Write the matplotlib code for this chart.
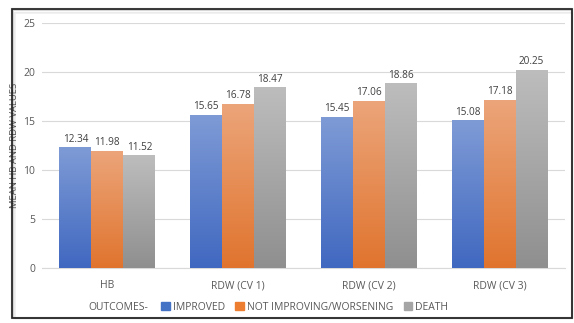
import numpy as np
import matplotlib.pyplot as plt
from matplotlib.patches import Rectangle
from matplotlib.colors import LinearSegmentedColormap

plt.rcParams['font.family'] = ['Open Sans', 'DejaVu Sans']

categories = ['HB', 'RDW (CV 1)', 'RDW (CV 2)', 'RDW (CV 3)']
series = ['IMPROVED', 'NOT IMPROVING/WORSENING', 'DEATH']
improved = [12.34, 15.65, 15.45, 15.08]
worsening = [11.98, 16.78, 17.06, 17.18]
death = [11.52, 18.47, 18.86, 20.25]
yticks = [0, 5, 10, 15, 20, 25]

values = [improved, worsening, death]
# (top colour, bottom colour) for each series' gradient fill
grads = [('#7f9bd6', '#4068c0'), ('#eca57a', '#e0742e'), ('#bdbdbd', '#8f8f8f')]
solid = ['#4472c4', '#ed7d31', '#a5a5a5']

fig = plt.figure(figsize=(5.74, 3.23), dpi=100)
fig.patch.set_facecolor('white')

# outer frame with a soft shadow on the top and left
for i, a in enumerate([0.25, 0.15, 0.08, 0.04]):
    fig.patches.append(Rectangle((12 / 574 + i * 0.002, (323 - 318) / 323),
                                 (572 - 12) / 574 - i * 0.002, (318 - 9) / 323 - i * 0.004,
                                 transform=fig.transFigure, fill=False,
                                 edgecolor='black', alpha=a, lw=1.6 - i * 0.3))
fig.patches.append(Rectangle((12 / 574, 5 / 323), 560 / 574, 309 / 323,
                             transform=fig.transFigure, fill=False,
                             edgecolor='#222222', lw=1.2))

ax = fig.add_axes([42 / 574, (323 - 268) / 323, (565 - 42) / 574, 245 / 323])

x = np.arange(len(categories))
w = 32 / 131
grad = np.linspace(1, 0, 256).reshape(-1, 1)
for k, (vals, (top, bot)) in enumerate(zip(values, grads)):
    cmap = LinearSegmentedColormap.from_list('g%d' % k, [bot, top])
    bars = ax.bar(x + (k - 1) * w, vals, w, color=solid[k], zorder=2)
    for b, v in zip(bars, vals):
        x0 = b.get_x()
        im = ax.imshow(grad, cmap=cmap, aspect='auto', zorder=3,
                       extent=[x0, x0 + b.get_width(), 0, v], vmin=0, vmax=1)
        im.set_clip_path(b)
        ax.text(x0 + b.get_width() / 2, v + 0.25, '%.2f' % v, ha='center', va='bottom',
                fontsize=7.2, color='#404040', zorder=4)
ax.set_xlim(-0.5, 3.5)
ax.set_ylim(0, 25)

ax.set_yticks(yticks)
ax.set_xticks(x)
ax.set_xticklabels(categories)
ax.tick_params(axis='both', length=0, labelsize=7.5, colors='#595959')
ax.tick_params(axis='x', pad=9)
ax.tick_params(axis='y', pad=5)
ax.grid(axis='y', color='#d9d9d9', lw=0.8, zorder=0)
for s in ['top', 'right', 'left']:
    ax.spines[s].set_visible(False)
ax.spines['bottom'].set_color('#d9d9d9')
ax.set_axisbelow(True)
ax.set_ylabel('MEAN HB AND RDW VALUES', fontsize=6.8, color='#595959')
ax.yaxis.set_label_coords(-23 / 523, 0.5)

# legend row
handles = [Rectangle((0, 0), 1, 1, color=c) for c in solid]
fig.text(88 / 574, (323 - 307) / 323, 'OUTCOMES-', fontsize=7.5, color='#595959', va='center')
fig.legend(handles, series, loc='center left', bbox_to_anchor=(152 / 574, (323 - 307) / 323),
           ncol=3, frameon=False, fontsize=7.5, handlelength=0.8, handleheight=0.8,
           handletextpad=0.3, columnspacing=1.0, labelcolor='#595959')

fig.savefig('out.png', dpi=100)
